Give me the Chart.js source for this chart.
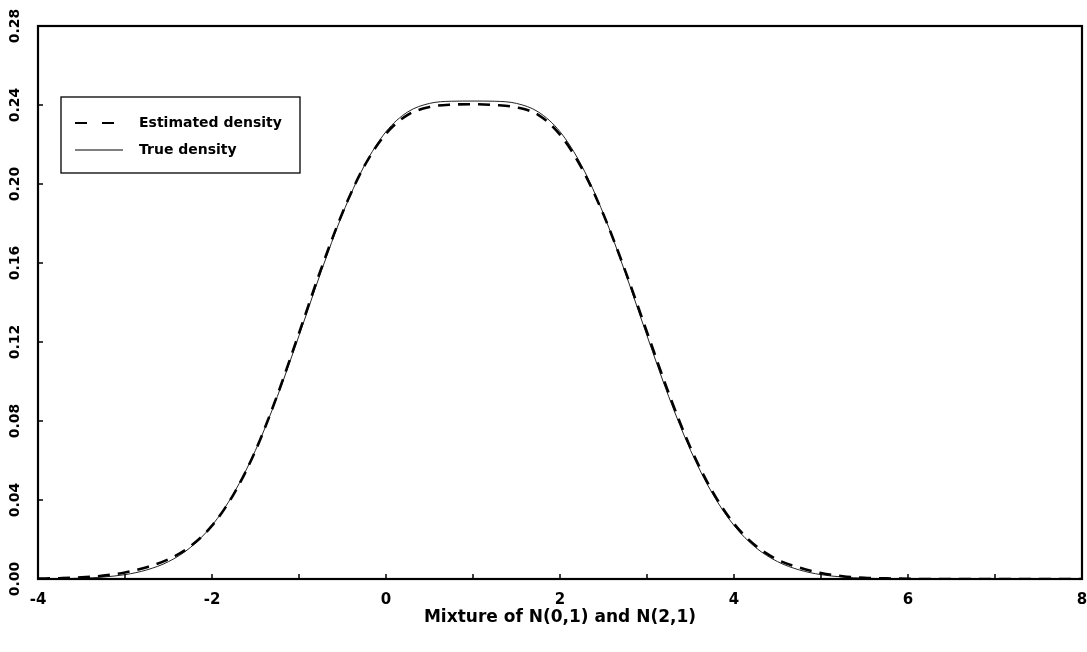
<!DOCTYPE html>
<html lang="en">
<head>
  <meta charset="UTF-8">
  <title>Mixture of N(0,1) and N(2,1)</title>
  <script src="https://cdn.jsdelivr.net/npm/chart.js"></script>
  <style>
    html, body { margin: 0; padding: 0; background: #fff; }
    #wrap { width: 1087px; height: 652px; }
  </style>
</head>
<body>
  <div id="wrap">
    <canvas id="densityChart" width="1087" height="652"></canvas>
  </div>

  <script>
    // grid of x values (step 0.25 from -4 to 8)
    const xValues = [
      -4, -3.75, -3.5, -3.25, -3, -2.75, -2.5, -2.25, -2, -1.75, -1.5, -1.25,
      -1, -0.75, -0.5, -0.25, 0, 0.25, 0.5, 0.75, 1, 1.25, 1.5, 1.75,
      2, 2.25, 2.5, 2.75, 3, 3.25, 3.5, 3.75, 4, 4.25, 4.5, 4.75,
      5, 5.25, 5.5, 5.75, 6, 6.25, 6.5, 6.75, 7, 7.25, 7.5, 7.75, 8
    ];
    const trueDensity = [
      0.0001, 0.0002, 0.0004, 0.0010, 0.0022, 0.0046, 0.0088, 0.0159, 0.0271, 0.0434, 0.0652, 0.0923,
      0.1232, 0.1551, 0.1848, 0.2092, 0.2265, 0.2365, 0.2408, 0.2419, 0.2420, 0.2419, 0.2408, 0.2365,
      0.2265, 0.2092, 0.1848, 0.1551, 0.1232, 0.0923, 0.0652, 0.0434, 0.0271, 0.0159, 0.0088, 0.0046,
      0.0022, 0.0010, 0.0004, 0.0002, 0.0001, 0, 0, 0, 0, 0, 0, 0, 0
    ];
    const estimatedDensity = [
      0.0002, 0.0004, 0.0008, 0.0017, 0.0033, 0.0060, 0.0100, 0.0165, 0.0270, 0.0430, 0.0650, 0.0930,
      0.1245, 0.1565, 0.1855, 0.2090, 0.2255, 0.2350, 0.2390, 0.2402, 0.2404, 0.2400, 0.2388, 0.2350,
      0.2250, 0.2080, 0.1845, 0.1560, 0.1250, 0.0940, 0.0665, 0.0445, 0.0280, 0.0168, 0.0098, 0.0058,
      0.0030, 0.0014, 0.0006, 0.0003, 0.0001, 0, 0, 0, 0, 0, 0, 0, 0
    ];
    const yTickValues = [0, 0.04, 0.08, 0.12, 0.16, 0.20, 0.24, 0.28];
    const yTickLabels = ['0.00', '0.04', '0.08', '0.12', '0.16', '0.20', '0.24', '0.28'];
    const xTickValues = [-4, -3, -2, -1, 0, 1, 2, 3, 4, 5, 6, 7, 8];
    const legendLabels = ['Estimated density', 'True density'];
    const xTitle = 'Mixture of N(0,1) and N(2,1)';

    const toPoints = ys => xValues.map((x, i) => ({ x: x, y: ys[i] }));

    // frame, inward ticks, rotated y labels and the boxed legend
    const framePlugin = {
      id: 'framePlugin',
      afterDraw(chart) {
        const { ctx, chartArea: a, scales: { x, y } } = chart;
        ctx.save();
        ctx.strokeStyle = '#000';
        ctx.fillStyle = '#000';
        ctx.lineWidth = 2.2;
        ctx.strokeRect(a.left, a.top, a.right - a.left, a.bottom - a.top);

        ctx.lineWidth = 1.5;
        ctx.beginPath();
        xTickValues.forEach(v => {
          const px = x.getPixelForValue(v);
          ctx.moveTo(px, a.bottom);
          ctx.lineTo(px, a.bottom - 5);
        });
        yTickValues.forEach(v => {
          const py = y.getPixelForValue(v);
          ctx.moveTo(a.left, py);
          ctx.lineTo(a.left + 5, py);
        });
        ctx.stroke();

        ctx.font = 'bold 14px "DejaVu Sans"';
        ctx.textAlign = 'center';
        ctx.textBaseline = 'middle';
        yTickValues.forEach((v, i) => {
          ctx.save();
          ctx.translate(15, y.getPixelForValue(v));
          ctx.rotate(-Math.PI / 2);
          ctx.fillText(yTickLabels[i], 0, 0);
          ctx.restore();
        });

        // legend box
        const bx = a.left + 23, by = a.top + 71, bw = 239, bh = 76;
        ctx.lineWidth = 1.3;
        ctx.strokeRect(bx, by, bw, bh);
        ctx.lineWidth = 2.2;
        ctx.setLineDash([12, 15]);
        ctx.beginPath();
        ctx.moveTo(bx + 14, by + 26);
        ctx.lineTo(bx + 54, by + 26);
        ctx.stroke();
        ctx.setLineDash([]);
        ctx.lineWidth = 1.2;
        ctx.beginPath();
        ctx.moveTo(bx + 14, by + 53);
        ctx.lineTo(bx + 62, by + 53);
        ctx.stroke();
        ctx.font = 'bold 14px "DejaVu Sans"';
        ctx.textAlign = 'left';
        ctx.fillText(legendLabels[0], bx + 78, by + 26);
        ctx.fillText(legendLabels[1], bx + 78, by + 53);
        ctx.restore();
      }
    };

    const ctx = document.getElementById('densityChart').getContext('2d');
    const densityChart = new Chart(ctx, {
      type: 'line',
      data: {
        datasets: [{
          label: legendLabels[0],
          data: toPoints(estimatedDensity),
          borderColor: '#000',
          borderWidth: 2.6,
          borderDash: [12, 8],
          pointRadius: 0,
          cubicInterpolationMode: 'monotone',
          fill: false
        }, {
          label: legendLabels[1],
          data: toPoints(trueDensity),
          borderColor: '#222',
          borderWidth: 1,
          pointRadius: 0,
          cubicInterpolationMode: 'monotone',
          fill: false
        }]
      },
      options: {
        responsive: false,
        animation: false,
        layout: { padding: { top: 26, right: 5, left: 0, bottom: 0 } },
        plugins: {
          legend: { display: false },
          tooltip: { enabled: false }
        },
        scales: {
          x: {
            type: 'linear',
            min: -4,
            max: 8,
            afterFit: s => { s.height = 73; s.paddingLeft = 0; s.paddingRight = 0; },
            grid: { display: false, drawTicks: false },
            border: { display: false },
            afterBuildTicks: s => { s.ticks = xTickValues.map(v => ({ value: v })); },
            ticks: {
              autoSkip: false,
              maxRotation: 0,
              padding: 12,
              color: '#000',
              font: { family: 'DejaVu Sans', size: 15, weight: 'bold' },
              callback: v => (v % 2 === 0 ? String(v) : '')
            },
            title: {
              display: true,
              text: xTitle,
              color: '#000',
              font: { family: 'DejaVu Sans', size: 17, weight: 'bold' },
              padding: { top: 4, bottom: 24 }
            }
          },
          y: {
            min: 0,
            max: 0.28,
            afterFit: s => { s.width = 38; },
            grid: { display: false, drawTicks: false },
            border: { display: false },
            ticks: { display: false }
          }
        }
      },
      plugins: [framePlugin]
    });
  </script>
</body>
</html>
